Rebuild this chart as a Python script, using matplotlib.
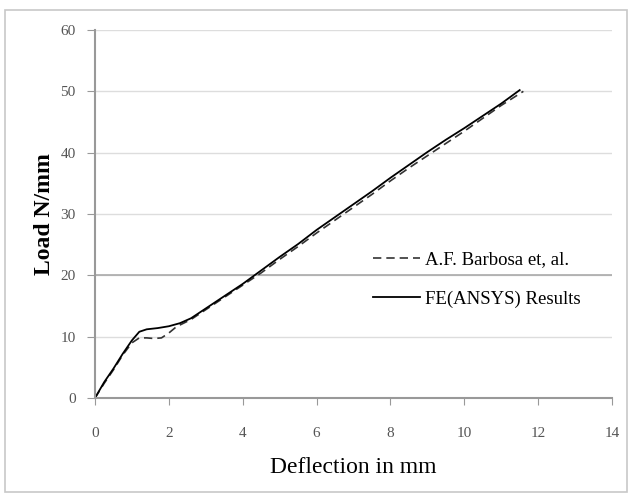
import matplotlib
matplotlib.use('Agg')
import matplotlib.pyplot as plt
from matplotlib.patches import Rectangle

# Deflection (mm) vs load (N/mm)
barbosa_x = [0, 0.25, 0.5, 0.75, 1.0, 1.2, 1.4, 1.6, 1.8, 2.0, 2.2, 2.6, 3.0, 3.5, 4.0, 4.5,
             5.0, 5.5, 6.0, 6.5, 7.0, 7.5, 8.0, 8.5, 9.0, 9.5, 10.0, 10.5, 11.0, 11.6]
barbosa_y = [0, 2.4, 4.6, 7.0, 9.0, 9.8, 9.8, 9.7, 9.8, 10.6, 11.6, 12.8, 14.4, 16.4, 18.4, 20.4,
             22.6, 24.7, 26.9, 29.0, 31.1, 33.2, 35.4, 37.5, 39.5, 41.5, 43.5, 45.6, 47.7, 50.0]

fe_x = [0, 0.25, 0.5, 0.75, 1.0, 1.2, 1.4, 1.7, 2.0, 2.3, 2.6, 3.0, 3.5, 4.0, 4.5,
        5.0, 5.5, 6.0, 6.5, 7.0, 7.5, 8.0, 8.5, 9.0, 9.5, 10.0, 10.5, 11.0, 11.5]
fe_y = [0, 2.6, 4.8, 7.2, 9.4, 10.8, 11.2, 11.4, 11.7, 12.2, 13.0, 14.6, 16.6, 18.6, 20.8,
        23.0, 25.1, 27.4, 29.5, 31.6, 33.7, 35.9, 38.0, 40.1, 42.1, 44.0, 46.0, 48.0, 50.2]

x_ticks = list(range(0, 15, 2))
y_ticks = list(range(0, 61, 10))

plt.rcParams['font.family'] = ['Liberation Serif', 'DejaVu Serif']

fig = plt.figure(figsize=(6.29, 4.93), dpi=100)
fig.patches.append(Rectangle((5 / 629, 0.002), 622 / 629, (493 - 10) / 493 - 0.002,
                             transform=fig.transFigure, fill=False,
                             edgecolor='#c8c8c8', linewidth=1.2))

ax = fig.add_axes([95 / 629, (493 - 398) / 493, (612 - 95) / 629, (398 - 30) / 493])

ax.plot(barbosa_x, barbosa_y, color='#333333', linestyle=(0, (5, 3)), linewidth=1.2,
        label='A.F. Barbosa et, al.')
ax.plot(fe_x, fe_y, color='black', linestyle='-', linewidth=1.3,
        label='FE(ANSYS) Results')

ax.set_xlim(0, 14)
ax.set_ylim(0, 60)
ax.set_xticks(x_ticks)
ax.set_yticks(y_ticks)
ax.tick_params(axis='both', colors='#999999', labelcolor='#555555', labelsize=11)
ax.tick_params(axis='x', direction='out', length=5, pad=16)
ax.tick_params(axis='y', direction='out', length=6, pad=8)

ax.grid(axis='y', color='#dddddd', linewidth=1)
ax.axhline(20, color='#aaaaaa', linewidth=1.2, zorder=1)
ax.set_axisbelow(True)

for side in ['top', 'right']:
    ax.spines[side].set_visible(False)
for side in ['left', 'bottom']:
    ax.spines[side].set_color('#999999')
    ax.spines[side].set_linewidth(1.5)

ax.set_xlabel('Deflection in mm', fontsize=17, labelpad=12)
ax.set_ylabel('Load N/mm', fontsize=17, fontweight='bold', labelpad=4)

ax.legend(loc='upper left', bbox_to_anchor=(0.505, 0.445), frameon=False,
          fontsize=13.5, labelspacing=1.2, handlelength=2.5, handletextpad=0.3)

fig.savefig('out.png', dpi=100)
